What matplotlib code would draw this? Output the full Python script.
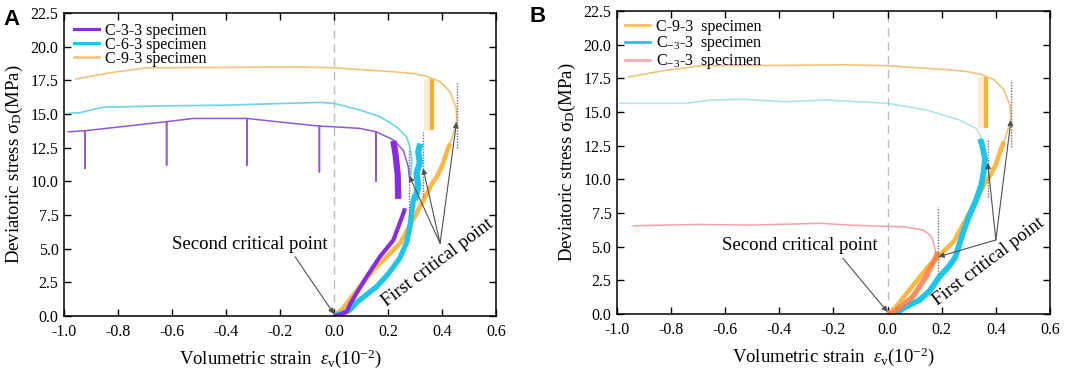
import matplotlib
matplotlib.use("Agg")
import matplotlib.pyplot as plt
import numpy as np

plt.rcParams['font.family'] = ['Liberation Serif', 'DejaVu Serif']
plt.rcParams['mathtext.fontset'] = 'custom'
plt.rcParams['mathtext.rm'] = 'Liberation Serif'
plt.rcParams['mathtext.it'] = 'Liberation Serif:italic'
plt.rcParams['axes.unicode_minus'] = False

# ---------------- data (volumetric strain 1e-2, deviatoric stress MPa) ----------------
# C-9-3 specimen (same specimen in both panels)
c93_load_x = [0.0, 0.03, 0.085, 0.145, 0.20, 0.245, 0.305, 0.365, 0.38, 0.40, 0.42, 0.43]
c93_load_y = [0.0, 0.5, 1.9, 3.4, 4.5, 5.4, 7.6, 9.9, 10.3, 11.1, 12.3, 12.8]
c93_post_x = [0.43, 0.448, 0.455, 0.452, 0.43, 0.393, 0.343, 0.293, 0.219, 0.0, -0.152, -0.397, -0.694, -0.83, -0.956]
c93_post_y = [12.8, 13.9, 14.6, 15.5, 16.65, 17.4, 17.8, 18.0, 18.14, 18.43, 18.5, 18.46, 18.43, 18.06, 17.6]
c93_bar_x = [0.362, 0.362]
c93_bar_y = [13.8, 17.6]

# C-6-3 specimen (panel A)
c63_load_x = [0.0, 0.03, 0.059, 0.084, 0.158, 0.20, 0.244, 0.27, 0.281, 0.294, 0.30]
c63_load_y = [0.0, 0.2, 0.45, 1.0, 2.18, 3.1, 4.3, 5.5, 6.63, 8.6, 9.0]
c63_chunk_x = [0.30, 0.312, 0.306, 0.318, 0.312, 0.32]
c63_chunk_y = [8.6, 9.6, 10.6, 11.4, 12.2, 12.8]
c63_post_x = [0.284, 0.288, 0.281, 0.269, 0.232, 0.17, 0.096, 0.0, -0.052, -0.397, -0.644, -0.855, -0.89, -0.94, -0.984]
c63_post_y = [10.34, 11.58, 12.57, 13.3, 14.05, 14.8, 15.3, 15.79, 15.86, 15.66, 15.6, 15.5, 15.35, 15.1, 15.05]

# C-3-3 specimen (panel A)
c33_load_x = [0.0, 0.02, 0.047, 0.06, 0.09, 0.121, 0.17, 0.22, 0.257, 0.263]
c33_load_y = [0.0, 0.1, 0.3, 0.9, 1.9, 2.92, 4.4, 5.64, 7.62, 8.0]
c33_chunk_x = [0.238, 0.236, 0.228, 0.22]
c33_chunk_y = [8.7, 10.5, 12.0, 13.0]
c33_post_x = [0.279, 0.275, 0.257, 0.22, 0.207, 0.156, 0.156, 0.156, 0.096, 0.0, -0.054, -0.054, -0.054,
              -0.212, -0.323, -0.323, -0.323, -0.521, -0.62, -0.62, -0.62, -0.768, -0.922, -0.922, -0.922, -0.984]
c33_post_y = [10.34, 11.08, 12.3, 13.07, 13.2, 13.68, 10.0, 13.68, 13.93, 14.05, 14.1, 10.7, 14.1,
              14.43, 14.67, 11.2, 14.67, 14.67, 14.43, 11.2, 14.43, 14.1, 13.76, 10.96, 13.76, 13.68]

# C_-3-3 cyan specimen (panel B)
cb_load_x = [0.03, 0.057, 0.118, 0.155, 0.192, 0.229, 0.25, 0.278, 0.30, 0.327, 0.345, 0.355, 0.36, 0.35, 0.342]
cb_load_y = [0.0, 0.42, 1.04, 1.7, 2.77, 3.6, 4.2, 6.0, 7.2, 8.46, 9.5, 10.5, 11.5, 12.5, 13.0]
cb_post_x = [0.342, 0.345, 0.327, 0.266, 0.143, 0.0, -0.226, -0.374, -0.534, -0.657, -0.743, -0.99]
cb_post_y = [13.0, 13.16, 13.78, 14.4, 15.15, 15.64, 15.89, 15.76, 15.94, 15.89, 15.64, 15.64]

# C_-3-3 red specimen (panel B)
cr_load_x = [0.0, 0.02, 0.093, 0.142, 0.173, 0.186]
cr_load_y = [0.0, 0.05, 1.28, 2.77, 4.0, 4.6]
cr_post_x = [0.18, 0.173, 0.165, 0.155, 0.13, 0.057, 0.0, -0.14, -0.25, -0.509, -0.7, -0.94]
cr_post_y = [4.3, 5.0, 5.6, 5.9, 6.24, 6.48, 6.5, 6.6, 6.73, 6.6, 6.65, 6.55]

# first critical points: x, arrow target y, dotted marker top / bottom
crit_A_x = [0.279, 0.330, 0.454]
crit_A_y = [10.4, 10.96, 14.4]
crit_A_top = [12.3, 13.7, 17.4]
crit_A_bot = [7.4, 8.86, 12.5]
crit_B_x = [0.188, 0.370, 0.456]
crit_B_y = [4.25, 11.2, 14.4]
crit_B_top = [7.97, 12.9, 17.4]
crit_B_bot = [3.0, 8.7, 12.4]

xticks = [-1.0, -0.8, -0.6, -0.4, -0.2, 0.0, 0.2, 0.4, 0.6]
yticks = [0.0, 2.5, 5.0, 7.5, 10.0, 12.5, 15.0, 17.5, 20.0, 22.5]

# ---------------- colours ----------------
ORANGE_THIN = '#EEC479'
ORANGE_THICK = '#FFB02E'
CYAN_THIN = '#6FD3E2'
CYAN_THICK = '#1CC6EA'
PURPLE_THIN = '#8E5AD6'
PURPLE_THICK = '#8A2BE2'
RED_THIN = '#F3A3A3'
RED_THICK = '#FF7A45'

fig = plt.figure(figsize=(10.65, 3.7), dpi=100)
axA = fig.add_axes([0.0601, 0.1459, 0.4056, 0.819])
axB = fig.add_axes([0.5793, 0.1514, 0.4066, 0.819])


def style(ax):
    ax.set_xlim(-1.0, 0.6)
    ax.set_ylim(0, 22.5)
    ax.set_xticks(xticks)
    ax.set_xticklabels([f'{v:.1f}' for v in xticks])
    ax.set_yticks(yticks)
    ax.set_yticklabels([f'{v:.1f}' for v in yticks])
    ax.tick_params(direction='in', top=True, right=True, length=5, width=1,
                   labelsize=11.5, pad=4)
    ax.tick_params(axis='x', pad=6)
    for s in ax.spines.values():
        s.set_linewidth(1.1)
    ax.axvline(0, color='#BDBDBD', lw=1.0, ls=(0, (6, 4)), zorder=0)
    ax.set_xlabel(r'Volumetric strain  $\it{\varepsilon}_{\mathrm{v}}$(10$^{\mathrm{-2}}$)', fontsize=13.5, labelpad=5)
    ax.set_ylabel(r'Deviatoric stress σ$_{\mathrm{D}}$(MPa)', fontsize=13.5, labelpad=4)


def orange(ax):
    ax.fill_betweenx(c93_bar_y, [0.335, 0.335], [0.36, 0.36], color=ORANGE_THICK, alpha=0.22, lw=0)
    ax.plot(c93_bar_x, c93_bar_y, color=ORANGE_THICK, lw=3, solid_capstyle='butt')
    ax.plot(c93_post_x, c93_post_y, color=ORANGE_THIN, lw=1.2)
    ax.plot(c93_load_x, c93_load_y, color=ORANGE_THICK, lw=3.3, alpha=0.9, solid_capstyle='butt')


def crit(ax, xs, ys, tops, bots, tail):
    for x, y, t, b in zip(xs, ys, tops, bots):
        ax.plot([x, x], [b, t], color='#707070', lw=1.0, ls=(0, (1, 1)), zorder=5)
        ax.annotate('', xy=(x, y), xytext=tail,
                    arrowprops=dict(arrowstyle='-|>', color='#505050', lw=0.8,
                                    mutation_scale=8, shrinkA=0, shrinkB=0), zorder=6)


# ---------------- panel A ----------------
style(axA)
axA.plot(c33_post_x, c33_post_y, color=PURPLE_THIN, lw=1.1)
axA.plot(c63_post_x, c63_post_y, color=CYAN_THIN, lw=1.2)
orange(axA)
axA.plot(c63_load_x, c63_load_y, color=CYAN_THICK, lw=3.8, solid_capstyle='butt')
axA.plot(c63_chunk_x, c63_chunk_y, color=CYAN_THICK, lw=4.5, solid_capstyle='butt')
axA.plot(c33_load_x, c33_load_y, color=PURPLE_THICK, lw=3.0, solid_capstyle='butt')
axA.plot(c33_chunk_x, c33_chunk_y, color=PURPLE_THICK, lw=4.5, solid_capstyle='butt')
crit(axA, crit_A_x, crit_A_y, crit_A_top, crit_A_bot, (0.393, 5.4))
axA.annotate('', xy=(0.0, 0.15), xytext=(-0.144, 4.4),
             arrowprops=dict(arrowstyle='-|>', color='#505050', lw=0.8, mutation_scale=8,
                             shrinkA=0, shrinkB=0))
axA.text(-0.025, 5.3, 'Second critical point', fontsize=13.5, ha='right', va='center')
axA.text(0.383, 3.95, 'First critical point', fontsize=13.5, ha='center', va='center',
         rotation=37, rotation_mode='anchor')

hA = [plt.Line2D([], [], color=PURPLE_THICK, lw=2.2),
      plt.Line2D([], [], color=CYAN_THICK, lw=2.2),
      plt.Line2D([], [], color=ORANGE_THIN, lw=1.8)]
axA.legend(hA, ['C-3-3 specimen', 'C-6-3 specimen', 'C-9-3 specimen'], loc='upper left',
           bbox_to_anchor=(0.0, 1.0), frameon=False, fontsize=11.5, handlelength=1.6,
           handletextpad=0.35, labelspacing=-0.12, borderaxespad=0.3, borderpad=0.3)

# ---------------- panel B ----------------
style(axB)
axB.plot(cb_post_x, cb_post_y, color=CYAN_THIN, lw=1.1, alpha=0.6)
axB.plot(cr_post_x, cr_post_y, color=RED_THIN, lw=1.1)
orange(axB)
axB.plot(cb_load_x, cb_load_y, color=CYAN_THICK, lw=4.2, solid_capstyle='butt')
axB.plot(cr_load_x, cr_load_y, color=RED_THICK, lw=3.8, alpha=0.85, solid_capstyle='butt')
crit(axB, crit_B_x, crit_B_y, crit_B_top, crit_B_bot, (0.40, 5.5))
axB.annotate('', xy=(0.0, 0.15), xytext=(-0.165, 4.13),
             arrowprops=dict(arrowstyle='-|>', color='#505050', lw=0.8, mutation_scale=8,
                             shrinkA=0, shrinkB=0))
axB.text(-0.036, 5.05, 'Second critical point', fontsize=13.5, ha='right', va='center')
axB.text(0.373, 3.85, 'First critical point', fontsize=13.5, ha='center', va='center',
         rotation=37, rotation_mode='anchor')

hB = [plt.Line2D([], [], color=ORANGE_THICK, lw=2.0, alpha=0.8),
      plt.Line2D([], [], color=CYAN_THICK, lw=2.0),
      plt.Line2D([], [], color=RED_THIN, lw=1.8)]
axB.legend(hB, ['C-9-3  specimen', r'C$_{\mathrm{-3}}$-3  specimen', r'C$_{\mathrm{-3}}$-3  specimen'],
           loc='upper left', bbox_to_anchor=(0.0, 1.0), frameon=False, fontsize=11.5,
           handlelength=1.6, handletextpad=0.35, labelspacing=-0.05, borderaxespad=0.3, borderpad=0.2)

fig.text(0.003, 0.975, 'A', fontsize=16, fontweight='bold', family='Liberation Sans', va='top')
fig.text(0.497, 0.985, 'B', fontsize=16, fontweight='bold', family='Liberation Sans', va='top')

fig.savefig('out.png', dpi=100)
